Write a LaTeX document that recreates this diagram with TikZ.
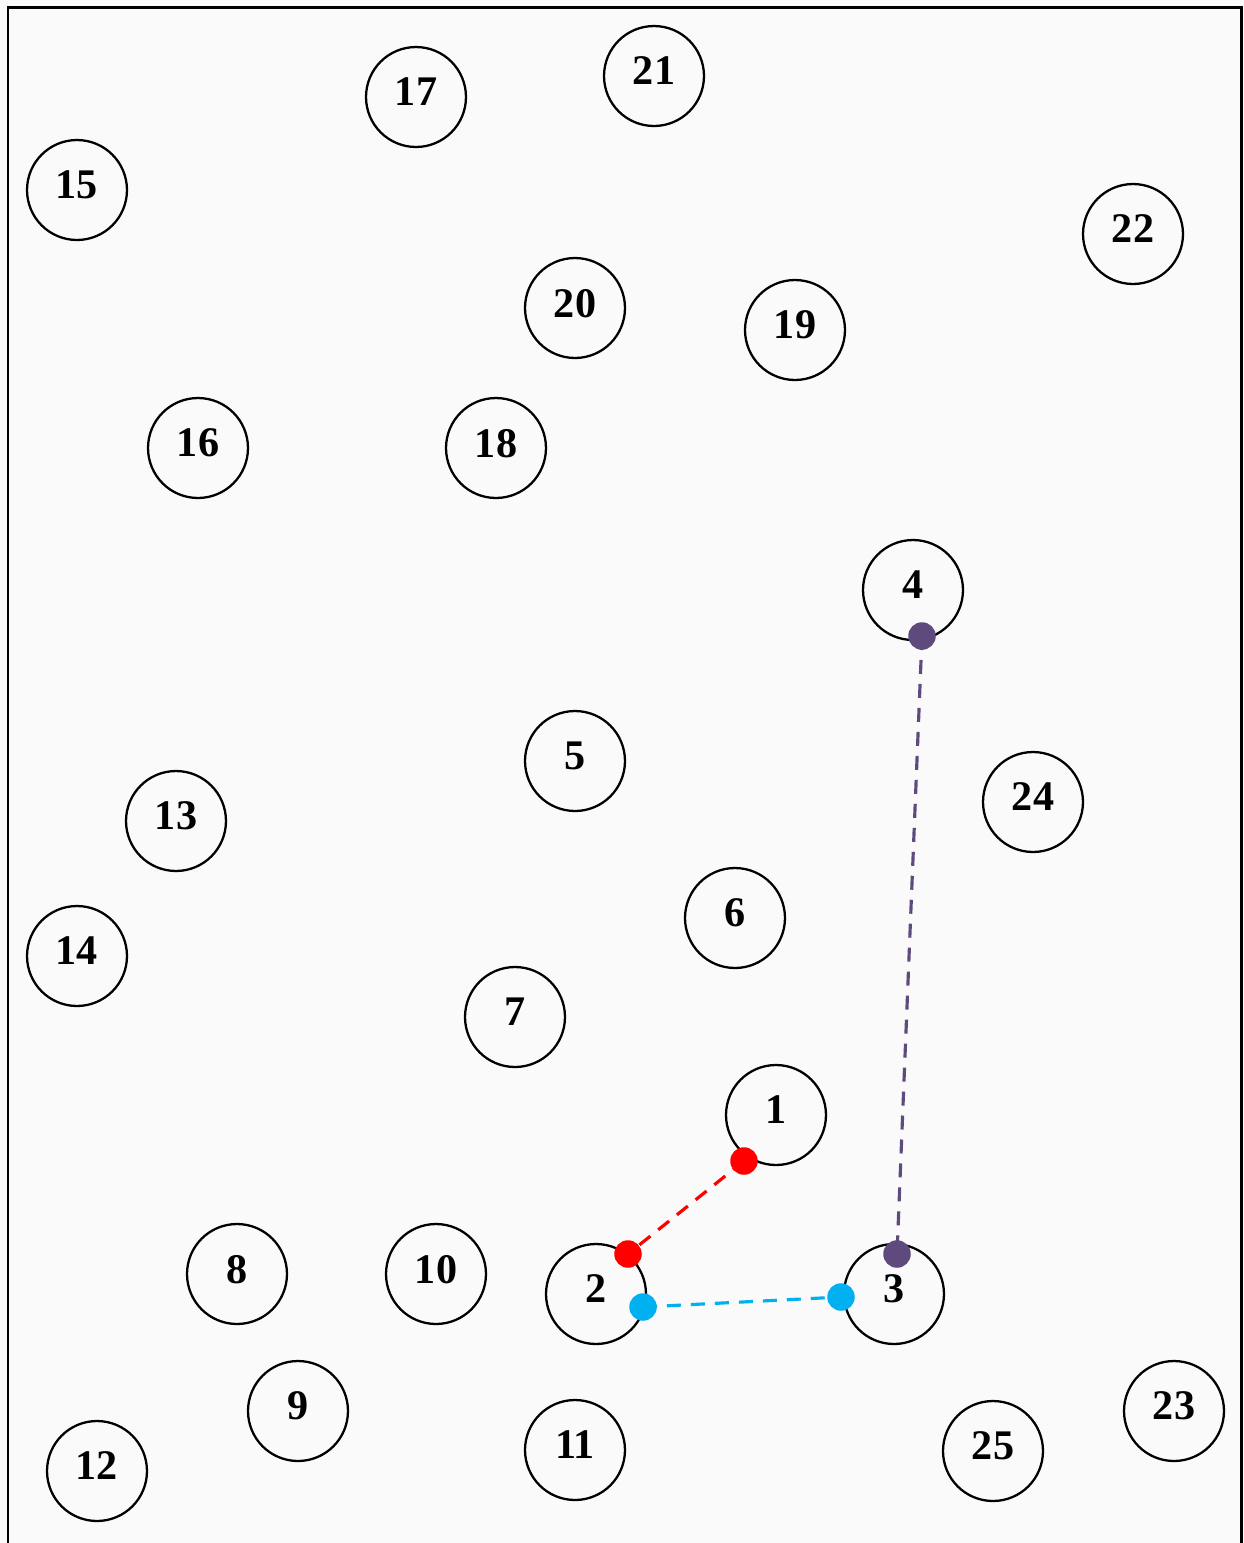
\documentclass[tikz,border=0pt]{standalone}
\usepackage{fontspec}
\setmainfont{Liberation Serif}
\usepackage{tikz}
\usetikzlibrary{positioning}

\definecolor{bgcol}{HTML}{FAFAFA}
\definecolor{redlink}{HTML}{FF0000}
\definecolor{bluelink}{HTML}{00B0F0}
\definecolor{purplelink}{HTML}{5E4A7C}

\begin{document}
\begin{tikzpicture}[
            x=0.02cm, y=-0.02cm,
            station/.style={draw=black, circle, line width=1.3pt, minimum size=2cm, inner sep=0pt, outer sep=0pt, text depth=0.2cm, font=\fontsize{24}{28}\selectfont\bfseries},
            dotmark/.style={circle, fill=#1, minimum size=0.55cm, inner sep=0pt},
            link/.style={draw=#1, line width=1.8pt, dash pattern=on 0.28cm off 0.2cm}
        ]
            % FRAME
            \fill[bgcol] (0,0) rectangle (1244,1543);
            \useasboundingbox (0,0) rectangle (1244,1543);
            \draw[line width=1.7pt] (8,7) rectangle (1241,1570);

            % CIRCLES
            \foreach \id/\x/\y in {1/776/1115, 2/596/1294, 3/894/1294, 4/913/590, 5/575/761,
                                   6/735/918, 7/515/1017, 8/237/1274, 9/298/1411, 10/436/1274,
                                   11/575/1450, 12/97/1471, 13/176/821, 14/77/956, 15/77/190,
                                   16/198/448, 17/416/97, 18/496/448, 19/795/330, 20/575/308,
                                   21/654/76, 22/1133/234, 23/1174/1411, 24/1033/802, 25/993/1451} {
                \node[station] (n\id) at (\x,\y) {\id};
            }

            % END POINTS
            \coordinate (r1) at ([shift={(-32,46)}]n1.center);
            \coordinate (r2) at ([shift={(32,-40)}]n2.center);
            \coordinate (b2) at ([shift={(47,13)}]n2.center);
            \coordinate (b3) at ([shift={(-53,3)}]n3.center);
            \coordinate (p4) at ([shift={(9,46)}]n4.center);
            \coordinate (p3) at ([shift={(3,-40)}]n3.center);

            % LINKS
            \draw[link=redlink] (r1) -- (r2);
            \draw[link=bluelink] (b2) -- (b3);
            \draw[link=purplelink] (p4) -- (p3);

            \foreach \pt/\col in {r1/redlink, r2/redlink, b2/bluelink, b3/bluelink, p4/purplelink, p3/purplelink} {
                \node[dotmark=\col] (d\pt) at (\pt) {};
            }
        \end{tikzpicture}
\end{document}
